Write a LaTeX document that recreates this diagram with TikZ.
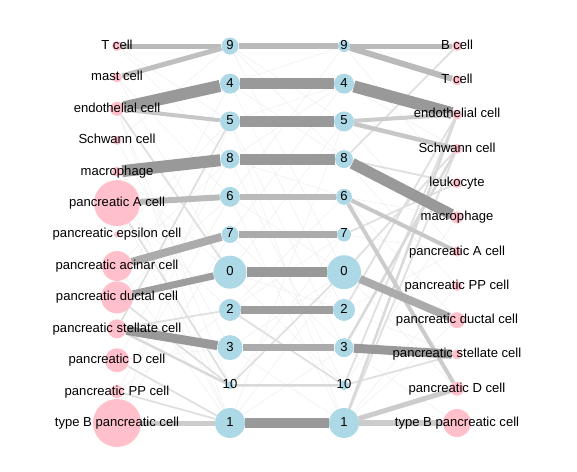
\documentclass[tikz,border=0pt]{standalone}
\usepackage{fontspec}
\setmainfont{Liberation Sans}
\usepackage{xcolor}
\usepackage{tikz}
\usetikzlibrary{backgrounds}
\definecolor{cpink}{HTML}{FFC0CB}
\definecolor{cblue}{HTML}{ADD8E6}
\newcommand{\lb}[1]{\smash{\makebox[0pt]{\raisebox{-0.5ex}{#1}}}}
\tikzset{
  cell_n/.style = {circle, inner sep=0pt, fill=cpink, minimum size=#1*1.5pt},
  clus_n/.style = {circle, inner sep=0pt, fill=cblue, minimum size=#1*1.5pt},
  lnk/.style 2 args = {line width=#1*0.75pt, draw=black!#2}
}
\begin{document}
\begin{tikzpicture}[x=0.75pt, y=-0.75pt, font=\fontsize{9.8}{11}\selectfont]
\useasboundingbox (0,0) rectangle (577,471);
% left cell types
\node[cell_n=5]   (l_tcell) at (117,46)    {\lb{T cell}};
\node[cell_n=5]   (l_mast)  at (117,77.4)  {\lb{mast cell}};
\node[cell_n=7]   (l_endo)  at (117,108.8) {\lb{endothelial cell}};
\node[cell_n=4.5] (l_schw)  at (117,140.3) {\lb{Schwann cell}};
\node[cell_n=5]   (l_macro) at (117,171.7) {\lb{macrophage}};
\node[cell_n=23]  (l_A)     at (117,203.1) {\lb{pancreatic A cell}};
\node[cell_n=3]   (l_eps)   at (117,234.5) {\lb{pancreatic epsilon cell}};
\node[cell_n=15]  (l_acin)  at (117,266)   {\lb{pancreatic acinar cell}};
\node[cell_n=16]  (l_duct)  at (117,297.4) {\lb{pancreatic ductal cell}};
\node[cell_n=9.5] (l_stel)  at (117,328.8) {\lb{pancreatic stellate cell}};
\node[cell_n=12]  (l_D)     at (117,360.2) {\lb{pancreatic D cell}};
\node[cell_n=6.5] (l_PP)    at (117,391.6) {\lb{pancreatic PP cell}};
\node[cell_n=24]  (l_B)     at (117,423)   {\lb{type B pancreatic cell}};
% clusters, left
\node[clus_n=8.5]  (cl9)  at (230,46)    {\lb{9}};
\node[clus_n=10]   (cl4)  at (230,83.7)  {\lb{4}};
\node[clus_n=10]   (cl5)  at (230,121.4) {\lb{5}};
\node[clus_n=9.5]  (cl8)  at (230,159.1) {\lb{8}};
\node[clus_n=10]   (cl6)  at (230,196.8) {\lb{6}};
\node[clus_n=8.5]  (cl7)  at (230,234.5) {\lb{7}};
\node[clus_n=16.5] (cl0)  at (230,272.2) {\lb{0}};
\node[clus_n=11]   (cl2)  at (230,309.9) {\lb{2}};
\node[clus_n=12.5] (cl3)  at (230,347.6) {\lb{3}};
\node[clus_n=4]    (cl10) at (230,385.3) {\lb{10}};
\node[clus_n=15]   (cl1)  at (230,423)   {\lb{1}};
% clusters, right
\node[clus_n=6]   (cr9)  at (344,46)    {\lb{9}};
\node[clus_n=10]  (cr4)  at (344,83.7)  {\lb{4}};
\node[clus_n=10]  (cr5)  at (344,121.4) {\lb{5}};
\node[clus_n=9]   (cr8)  at (344,159.1) {\lb{8}};
\node[clus_n=8]   (cr6)  at (344,196.8) {\lb{6}};
\node[clus_n=7]   (cr7)  at (344,234.5) {\lb{7}};
\node[clus_n=17]  (cr0)  at (344,272.2) {\lb{0}};
\node[clus_n=11]  (cr2)  at (344,309.9) {\lb{2}};
\node[clus_n=9.5] (cr3)  at (344,347.6) {\lb{3}};
\node[clus_n=5]   (cr10) at (344,385.3) {\lb{10}};
\node[clus_n=15]  (cr1)  at (344,423)   {\lb{1}};
% right cell types
\node[cell_n=5]  (r_bcell) at (457,46)    {\lb{B cell}};
\node[cell_n=5]  (r_tcell) at (457,80.3)  {\lb{T cell}};
\node[cell_n=5]  (r_endo)  at (457,114.5) {\lb{endothelial cell}};
\node[cell_n=5]  (r_schw)  at (457,148.8) {\lb{Schwann cell}};
\node[cell_n=5]  (r_leuk)  at (457,183.1) {\lb{leukocyte}};
\node[cell_n=6]  (r_macro) at (457,217.4) {\lb{macrophage}};
\node[cell_n=5]  (r_A)     at (457,251.6) {\lb{pancreatic A cell}};
\node[cell_n=5]  (r_PP)    at (457,285.9) {\lb{pancreatic PP cell}};
\node[cell_n=8]  (r_duct)  at (457,320.2) {\lb{pancreatic ductal cell}};
\node[cell_n=5]  (r_stel)  at (457,354.4) {\lb{pancreatic stellate cell}};
\node[cell_n=7]  (r_D)     at (457,388.7) {\lb{pancreatic D cell}};
\node[cell_n=14] (r_B)     at (457,423)   {\lb{type B pancreatic cell}};
\begin{scope}[on background layer]
% faint links
\draw[lnk={0.6}{6}] (l_tcell)--(cl5) (l_mast)--(cl0) (l_endo)--(cl10) (l_endo)--(cl1)
  (l_schw)--(cl9) (l_schw)--(cl3) (l_macro)--(cl0) (l_macro)--(cl1) (l_A)--(cl1)
  (l_A)--(cl2) (l_eps)--(cl5) (l_acin)--(cl8) (l_acin)--(cl1) (l_duct)--(cl4)
  (l_duct)--(cl6) (l_D)--(cl8) (l_D)--(cl3) (l_PP)--(cl6) (l_PP)--(cl2)
  (l_B)--(cl7) (l_B)--(cl5) (l_mast)--(cl6) (l_tcell)--(cl8);
\draw[lnk={0.6}{6}] (cl9)--(cr5) (cl9)--(cr0) (cl4)--(cr8) (cl4)--(cr2) (cl5)--(cr4)
  (cl5)--(cr3) (cl5)--(cr1) (cl8)--(cr6) (cl8)--(cr10) (cl6)--(cr0) (cl6)--(cr1)
  (cl7)--(cr4) (cl7)--(cr3) (cl0)--(cr5) (cl0)--(cr2) (cl0)--(cr10) (cl2)--(cr6)
  (cl2)--(cr7) (cl3)--(cr0) (cl3)--(cr1) (cl10)--(cr7) (cl1)--(cr5) (cl1)--(cr0)
  (cl1)--(cr3) (cl6)--(cr9) (cl8)--(cr4) (cl4)--(cr9) (cl9)--(cr8);
\draw[lnk={0.6}{6}] (cr9)--(r_leuk) (cr4)--(r_schw) (cr5)--(r_A) (cr8)--(r_PP)
  (cr6)--(r_macro) (cr7)--(r_A) (cr0)--(r_D) (cr2)--(r_stel) (cr2)--(r_A)
  (cr3)--(r_B) (cr10)--(r_macro) (cr1)--(r_PP) (cr1)--(r_duct) (cr6)--(r_duct);
% light links
\draw[lnk={1.8}{12}] (l_stel)--(cl5) (l_stel)--(cl2) (l_D)--(cl1) (l_PP)--(cl1)
  (l_duct)--(cl10) (l_endo)--(cl0) (l_A)--(cl10);
\draw[lnk={1.8}{12}] (cl2)--(cr10) (cl10)--(cr0);
\draw[lnk={1.8}{12}] (cr8)--(r_leuk) (cr8)--(r_bcell) (cr10)--(r_endo) (cr1)--(r_schw)
  (cr2)--(r_endo) (cr0)--(r_schw) (cr10)--(r_stel) (cr7)--(r_leuk);
\draw[lnk={2.5}{15}] (cr3)--(r_schw) (cr1)--(r_endo) (l_stel)--(cl10) (cl10)--(cr10);
% main links
\draw[lnk={5}{27}] (l_tcell)--(cl9);
\draw[lnk={5}{25}] (l_mast)--(cl9);
\draw[lnk={12}{40}] (l_endo)--(cl4);
\draw[lnk={4}{22}] (l_endo)--(cl5);
\draw[lnk={12}{40}] (l_macro)--(cl8);
\draw[lnk={6}{27}] (l_A)--(cl6);
\draw[lnk={8}{33}] (l_acin)--(cl7);
\draw[lnk={7}{38}] (l_duct)--(cl0);
\draw[lnk={9}{40}] (l_stel)--(cl3);
\draw[lnk={5}{20}] (l_B)--(cl1);
\draw[lnk={5.5}{27}] (cl9)--(cr9);
\draw[lnk={11.5}{40}] (cl4)--(cr4);
\draw[lnk={11}{40}] (cl5)--(cr5);
\draw[lnk={11}{40}] (cl8)--(cr8);
\draw[lnk={6}{27}] (cl6)--(cr6);
\draw[lnk={7.5}{33}] (cl7)--(cr7);
\draw[lnk={10.5}{40}] (cl0)--(cr0);
\draw[lnk={8.5}{38}] (cl2)--(cr2);
\draw[lnk={7.5}{33}] (cl3)--(cr3);
\draw[lnk={10}{40}] (cl1)--(cr1);
\draw[lnk={5}{27}] (cr9)--(r_bcell);
\draw[lnk={6}{27}] (cr9)--(r_tcell);
\draw[lnk={12}{40}] (cr4)--(r_endo);
\draw[lnk={4}{20}] (cr5)--(r_endo);
\draw[lnk={4.5}{22}] (cr5)--(r_schw);
\draw[lnk={11}{40}] (cr8)--(r_macro);
\draw[lnk={4}{22}] (cr6)--(r_A);
\draw[lnk={4}{20}] (cr6)--(r_D);
\draw[lnk={8}{33}] (cr0)--(r_duct);
\draw[lnk={9}{40}] (cr3)--(r_stel);
\draw[lnk={5}{20}] (cr1)--(r_D);
\draw[lnk={6}{20}] (cr1)--(r_B);
\end{scope}
\end{tikzpicture}
\end{document}
